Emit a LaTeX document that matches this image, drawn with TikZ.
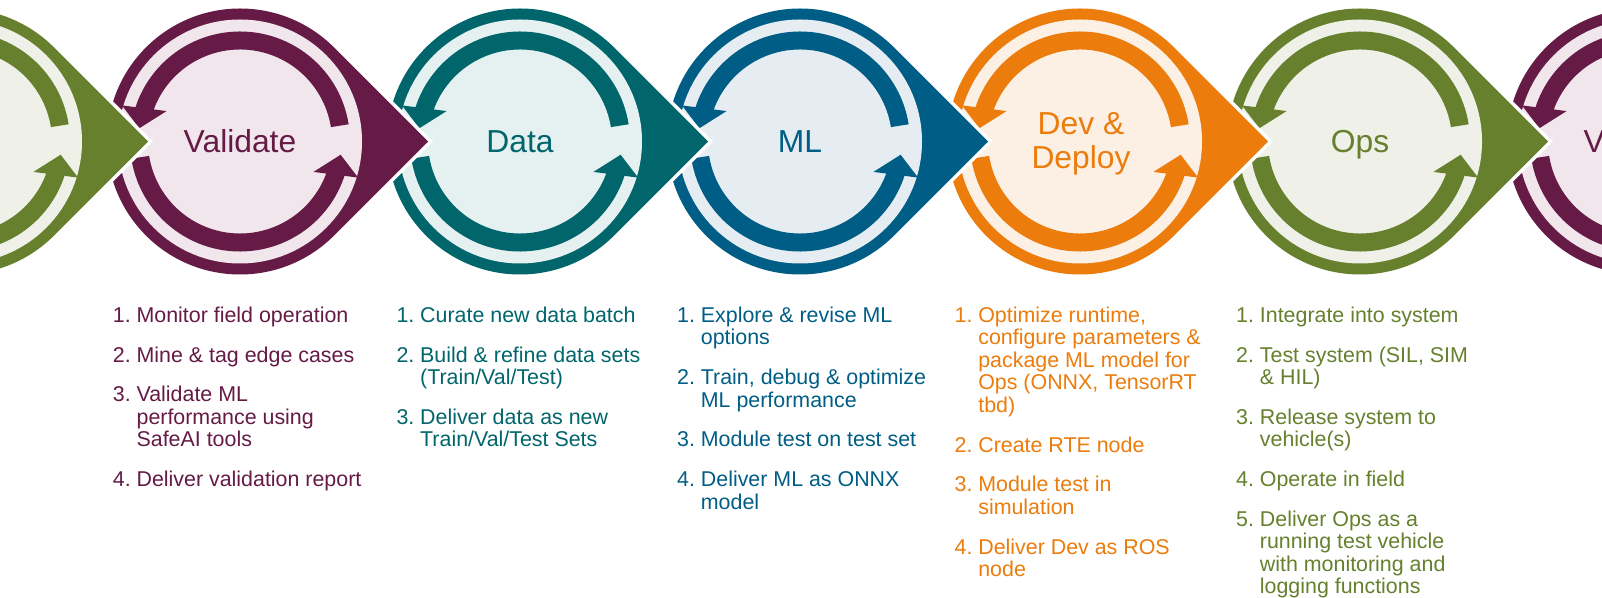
\documentclass[tikz,border=0pt]{standalone}
\usepackage{fontspec}
\setmainfont{Liberation Sans}
\definecolor{cPur}{RGB}{101,27,70}
\definecolor{lPur}{RGB}{240,230,236}
\definecolor{cTeal}{RGB}{0,102,108}
\definecolor{lTeal}{RGB}{229,240,240}
\definecolor{cBlue}{RGB}{0,94,134}
\definecolor{lBlue}{RGB}{229,237,243}
\definecolor{cOra}{RGB}{236,124,12}
\definecolor{lOra}{RGB}{252,240,229}
\definecolor{cGrn}{RGB}{102,128,46}
\definecolor{lGrn}{RGB}{239,240,232}
\newcommand{\myitem}[2]{\par\hangindent=23.7pt\hangafter=1\noindent\makebox[23.7pt][l]{#1}#2\par}
\newcommand{\nl}{\newline}
\newcommand{\drawunit}[3]{%
  \begin{scope}[shift={(#1,455.5)}]
    \path[fill=#2, preaction={draw=white, line width=7pt}]
      (188.1,0) -- (45:133) arc[start angle=45, end angle=315, radius=133] -- cycle;
    \fill[#3] (0,0) circle[radius=122];
    \foreach \rr in {0,180}{
      \fill[#2, rotate=\rr] (9:110) arc[start angle=9, end angle=161.8, radius=110]
        -- (163:123.5) -- (172.5:101.5) -- (157.5:79.5) -- (159.6:92)
        arc[start angle=159.6, end angle=9, radius=92] -- cycle;
    }
  \end{scope}}
\tikzset{
  title/.style={font=\fontsize{31.8}{34}\selectfont, inner sep=0pt},
  listtext/.style={font=\fontsize{21.4}{22.5}\selectfont, inner sep=0pt, anchor=base west}
}
\begin{document}
\begin{tikzpicture}[x=1pt,y=1pt]
\useasboundingbox (0,0) rectangle (1602,597);
\clip (0,0) rectangle (1602,597);
\fill[white] (0,0) rectangle (1602,597);
% units drawn right to left (left ones on top)
\drawunit{1640}{cPur}{lPur}
\drawunit{1360}{cGrn}{lGrn}
\drawunit{1080}{cOra}{lOra}
\drawunit{800}{cBlue}{lBlue}
\drawunit{520}{cTeal}{lTeal}
\drawunit{240}{cPur}{lPur}
\drawunit{-40}{cGrn}{lGrn}
% titles
\node[title, text=cPur, anchor=base] (tVal) at (240,444.3) {Validate};
\node[title, text=cTeal, anchor=base] (tData) at (520,444.3) {Data};
\node[title, text=cBlue, anchor=base] (tML) at (800,444.3) {ML};
\node[title, text=cOra, anchor=north, align=center] (tDev) at (1081,484.3) {Dev \&\\Deploy};
\node[title, text=cGrn, anchor=base] (tOps) at (1360,444.3) {Ops};
\node[title, text=cPur, anchor=base] (tVal2) at (1640,444.3) {Validate};
% lists
\node[listtext, text=cPur] (lVal) at (112.7,274.5) {\parbox[t]{275pt}{\setlength{\parskip}{17.2pt}%
\myitem{1.}{Monitor field operation}%
\myitem{2.}{Mine \& tag edge cases}%
\myitem{3.}{Validate ML\nl performance using\nl SafeAI tools}%
\myitem{4.}{Deliver validation report}}};
\node[listtext, text=cTeal] (lData) at (396.3,274.5) {\parbox[t]{275pt}{\setlength{\parskip}{17.2pt}%
\myitem{1.}{Curate new data batch}%
\myitem{2.}{Build \& refine data sets\nl (Train/Val/Test)}%
\myitem{3.}{Deliver data as new\nl Train/Val/Test Sets}}};
\node[listtext, text=cBlue] (lML) at (677,274.5) {\parbox[t]{275pt}{\setlength{\parskip}{17.2pt}%
\myitem{1.}{Explore \& revise ML\nl options}%
\myitem{2.}{Train, debug \& optimize\nl ML performance}%
\myitem{3.}{Module test on test set}%
\myitem{4.}{Deliver ML as ONNX\nl model}}};
\node[listtext, text=cOra] (lDev) at (954.4,274.5) {\parbox[t]{275pt}{\setlength{\parskip}{17.2pt}%
\myitem{1.}{Optimize runtime,\nl configure parameters \&\nl package ML model for\nl Ops (ONNX, TensorRT\nl tbd)}%
\myitem{2.}{Create RTE node}%
\myitem{3.}{Module test in\nl simulation}%
\myitem{4.}{Deliver Dev as ROS\nl node}}};
\node[listtext, text=cGrn] (lOps) at (1236,274.5) {\parbox[t]{275pt}{\setlength{\parskip}{17.2pt}%
\myitem{1.}{Integrate into system}%
\myitem{2.}{Test system (SIL, SIM\nl \& HIL)}%
\myitem{3.}{Release system to\nl vehicle(s)}%
\myitem{4.}{Operate in field}%
\myitem{5.}{Deliver Ops as a\nl running test vehicle\nl with monitoring and\nl logging functions}}};
\end{tikzpicture}
\end{document}
